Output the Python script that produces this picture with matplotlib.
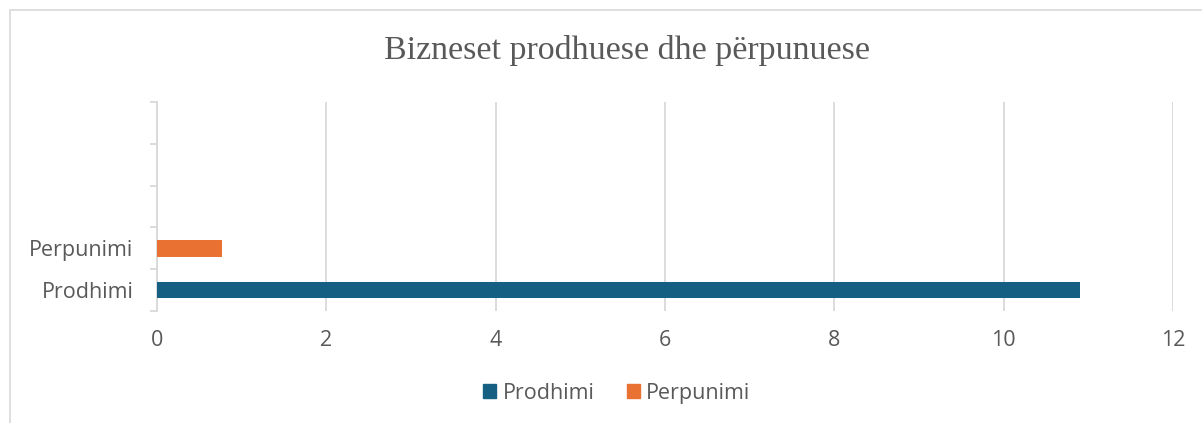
import matplotlib.pyplot as plt
import matplotlib.patches as mpatches
from matplotlib.ticker import FixedLocator, NullFormatter

categories = ['Prodhimi', 'Perpunimi', '', '', '']
series_names = ['Prodhimi', 'Perpunimi']
series_values = [10.9, 0.77]
series_colors = ['#156082', '#E97132']
x_ticks = [0, 2, 4, 6, 8, 10, 12]

text_color = '#595959'
grid_color = '#D9D9D9'

plt.rcParams['font.family'] = ['Open Sans', 'DejaVu Sans']

fig = plt.figure(figsize=(12.02, 4.23), dpi=100)
ax = fig.add_axes([157 / 1202, 1 - 311 / 423, (1173 - 157) / 1202, (311 - 102) / 423])

# outer chart border (cut off at right and bottom in the reference)
fig.patches.append(mpatches.Rectangle((10 / 1202, -0.1), 1.2, 1 - 10 / 423 + 0.1,
                                      transform=fig.transFigure, fill=False,
                                      edgecolor=grid_color, linewidth=1.2))

for i, (name, val, col) in enumerate(zip(series_names, series_values, series_colors)):
    ax.barh(i, val, height=0.4, color=col, label=name, zorder=3)

ax.set_xlim(0, 12)
ax.set_ylim(-0.5, len(categories) - 0.5)
ax.set_xticks(x_ticks)
ax.tick_params(axis='x', length=0, pad=14, labelsize=15.5, labelcolor=text_color)
ax.xaxis.grid(True, color=grid_color, linewidth=1.3, zorder=0)

# category boundaries carry the tick marks, labels sit in the middle
ax.yaxis.set_major_locator(FixedLocator([i - 0.5 for i in range(len(categories) + 1)]))
ax.yaxis.set_major_formatter(NullFormatter())
ax.yaxis.set_minor_locator(FixedLocator(range(len(categories))))
ax.set_yticklabels(categories, minor=True)
ax.tick_params(axis='y', which='major', length=5, color=grid_color, width=1.3)
ax.tick_params(axis='y', which='minor', length=0, pad=17, labelsize=15.5, labelcolor=text_color)

for s in ['top', 'right', 'bottom']:
    ax.spines[s].set_visible(False)
ax.spines['left'].set_color(grid_color)
ax.spines['left'].set_linewidth(1.3)

fig.text(627 / 1202, 1 - 50 / 423, 'Bizneset prodhuese dhe përpunuese', ha='center', va='center',
         fontsize=24.5, color=text_color, family=['Liberation Serif', 'DejaVu Serif'])

handles = [mpatches.Patch(color=c) for c in series_colors]
fig.legend(handles, series_names, loc='center', bbox_to_anchor=(617 / 1202, 1 - 393 / 423),
           ncol=2, frameon=False, fontsize=15.5, labelcolor=text_color,
           handlelength=0.6, handleheight=0.6, handletextpad=0.3, columnspacing=1.5)

fig.savefig('out.png', dpi=100)
